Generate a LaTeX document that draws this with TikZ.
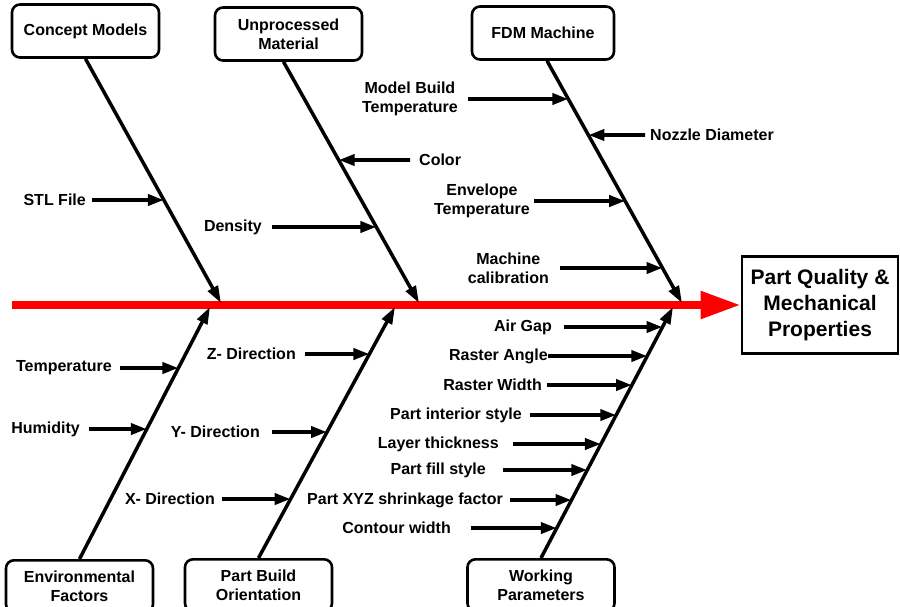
\documentclass[tikz,border=0pt]{standalone}
\usepackage{fontspec}
\setmainfont{Liberation Sans}
\usetikzlibrary{arrows.meta}
\begin{document}
\begin{tikzpicture}[x=1pt,y=-1pt,font=\bfseries\fontsize{16}{19}\selectfont,
  cause/.style={draw,line width=2.6pt,rounded corners=8pt,minimum width=147pt,minimum height=53pt,align=center,inner sep=2pt},
  lbl/.style={align=center,inner sep=0pt},
  bone/.style={line width=3.5pt,-{Triangle[length=17pt,width=11pt]}},
  sub/.style={line width=3.8pt,-{Triangle[length=16pt,width=11pt]}}]
\useasboundingbox (0,0) rectangle (900,606);
\clip (0,0) rectangle (900,606);
% spine and effect
\coordinate (tail) at (12,305);
\node[draw,line width=2.6pt,minimum width=156pt,minimum height=97pt,align=center,
  font=\bfseries\fontsize{21}{26}\selectfont] (eff) at (820,305) {Part Quality \&\\Mechanical\\Properties};
\draw[red,line width=8pt,-{Triangle[length=40pt,width=26pt]}] (tail) -- (eff.west);
% main causes
\node[cause] (cm) at (85.5,31) {Concept Models};
\node[cause] (um) at (288.5,34) {Unprocessed\\Material};
\node[cause,minimum width=142pt] (fdm) at (543,33) {FDM Machine};
\node[cause,anchor=north,minimum height=52pt] (env) at (79.5,559) {Environmental\\Factors};
\node[cause,anchor=north,minimum height=52pt] (pbo) at (258.5,558) {Part Build\\Orientation};
\node[cause,anchor=north,minimum height=52pt] (wp) at (541,558) {Working\\Parameters};
\coordinate (t1) at (221,303);
\coordinate (t2) at (419,303);
\coordinate (t3) at (682,303);
\coordinate (b1) at (210,307);
\coordinate (b2) at (395,307);
\coordinate (b3) at (673,307);
\coordinate (s2) at ([xshift=-5]um.south);
\coordinate (s3) at ([xshift=4]fdm.south);
\draw[bone] (cm.south) -- (t1);
\draw[bone] (s2) -- (t2);
\draw[bone] (s3) -- (t3);
\draw[bone] (env.north) -- (b1);
\draw[bone] (pbo.north) -- (b2);
\draw[bone] (wp.north) -- (b3);
% concept models
\node[lbl,anchor=east] (stl) at (86,200) {STL File};
\draw[sub] ([xshift=6]stl.east) -- (intersection of stl.east--stl.west and cm.south--t1);
% unprocessed material
\node[lbl,anchor=east] (dens) at (262,227) {Density};
\node[lbl,anchor=west] (col) at (419,160) {Color};
\draw[sub] ([xshift=10]dens.east) -- (intersection of dens.east--dens.west and s2--t2);
\draw[sub] ([xshift=-9]col.west) -- (intersection of col.east--col.west and s2--t2);
% fdm machine
\node[lbl,anchor=east] (mbt) at (458,99) {Model Build\\Temperature};
\node[lbl,anchor=west] (noz) at (650,135) {Nozzle Diameter};
\node[lbl,anchor=east] (envt) at (530,201) {Envelope\\Temperature};
\node[lbl,anchor=east] (mcal) at (549,268) {Machine\\calibration};
\draw[sub] ([xshift=10]mbt.east) -- (intersection of mbt.east--mbt.west and s3--t3);
\draw[sub] ([xshift=-5]noz.west) -- (intersection of noz.east--noz.west and s3--t3);
\draw[sub] ([xshift=4]envt.east) -- (intersection of envt.east--envt.west and s3--t3);
\draw[sub] ([xshift=11]mcal.east) -- (intersection of mcal.east--mcal.west and s3--t3);
% environmental factors
\node[lbl,anchor=east] (temp) at (112,368) {Temperature};
\node[lbl,anchor=east] (hum) at (80,429) {Humidity};
\draw[sub] ([xshift=8]temp.east) -- (intersection of temp.east--temp.west and env.north--b1);
\draw[sub] ([xshift=9]hum.east) -- (intersection of hum.east--hum.west and env.north--b1);
% part build orientation
\node[lbl,anchor=east] (zdir) at (296,354) {Z- Direction};
\node[lbl,anchor=east] (ydir) at (260,432) {Y- Direction};
\node[lbl,anchor=east] (xdir) at (215,499) {X- Direction};
\draw[sub] ([xshift=9]zdir.east) -- (intersection of zdir.east--zdir.west and pbo.north--b2);
\draw[sub] ([xshift=12]ydir.east) -- (intersection of ydir.east--ydir.west and pbo.north--b2);
\draw[sub] ([xshift=7]xdir.east) -- (intersection of xdir.east--xdir.west and pbo.north--b2);
% working parameters
\node[lbl,anchor=east] (gap) at (552,327) {Air Gap};
\node[lbl,anchor=east] (rang) at (548,356) {Raster Angle};
\node[lbl,anchor=east] (rwid) at (542,385) {Raster Width};
\node[lbl,anchor=east] (pint) at (522,415) {Part interior style};
\node[lbl,anchor=east] (layer) at (499,444) {Layer thickness};
\node[lbl,anchor=east] (pfill) at (486,470) {Part fill style};
\node[lbl,anchor=east] (xyz) at (503,500) {Part XYZ shrinkage factor};
\node[lbl,anchor=east] (cont) at (451,528) {Contour width};
\draw[sub] ([xshift=12]gap.east) -- (intersection of gap.east--gap.west and wp.north--b3);
\draw[sub] (rang.east) -- (intersection of rang.east--rang.west and wp.north--b3);
\draw[sub] ([xshift=5]rwid.east) -- (intersection of rwid.east--rwid.west and wp.north--b3);
\draw[sub] ([xshift=8]pint.east) -- (intersection of pint.east--pint.west and wp.north--b3);
\draw[sub] ([xshift=14]layer.east) -- (intersection of layer.east--layer.west and wp.north--b3);
\draw[sub] ([xshift=17]pfill.east) -- (intersection of pfill.east--pfill.west and wp.north--b3);
\draw[sub] ([xshift=7]xyz.east) -- (intersection of xyz.east--xyz.west and wp.north--b3);
\draw[sub] ([xshift=20]cont.east) -- (intersection of cont.east--cont.west and wp.north--b3);
\end{tikzpicture}
\end{document}
